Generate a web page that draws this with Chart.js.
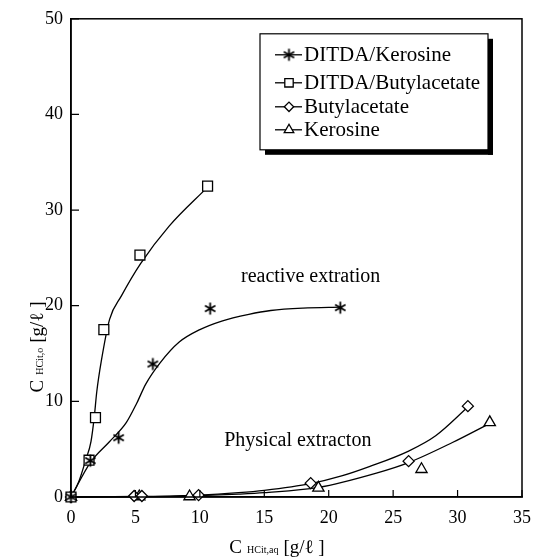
<!DOCTYPE html>
<html>
<head>
<meta charset="utf-8">
<script src="https://cdn.jsdelivr.net/npm/chart.js@4.4.0/dist/chart.umd.min.js"></script>
<style>
  html, body { margin: 0; padding: 0; background: #fff; }
  #wrap { width: 541px; height: 560px; position: relative; }
</style>
</head>
<body>
<div id="wrap"><canvas id="canvas"></canvas></div>
<script>
var xTicks = [0, 5, 10, 15, 20, 25, 30, 35];
var yTicks = [0, 10, 20, 30, 40, 50];

var seriesNames = ['DITDA/Kerosine', 'DITDA/Butylacetate', 'Butylacetate', 'Kerosine'];

// measured points
var ditdaKeroX = [0, 1.5, 3.7, 6.35, 10.8, 20.9];
var ditdaKeroY = [0, 3.8, 6.2, 13.9, 19.7, 19.8];
var ditdaButX = [0, 1.4, 1.9, 2.55, 5.35, 10.6];
var ditdaButY = [0, 3.85, 8.3, 17.5, 25.3, 32.5];
var butX = [0, 4.9, 5.5, 9.9, 18.6, 26.2, 30.8];
var butY = [0, 0.1, 0.1, 0.2, 1.45, 3.75, 9.5];
var keroX = [0, 5.3, 9.2, 19.2, 27.2, 32.5];
var keroY = [0, 0.05, 0.05, 0.95, 2.9, 7.8];

// hand-drawn fit curves
var ditdaKeroFitX = [0, 1.5, 3.0, 4.3, 5.1, 5.8, 6.9, 8.4, 10, 11.7, 13.8, 15.5, 18, 21];
var ditdaKeroFitY = [0, 3.6, 5.8, 7.8, 9.8, 11.8, 14.0, 16.2, 17.5, 18.4, 19.1, 19.5, 19.75, 19.85];
var ditdaButFitX = [0, 0.6, 1.15, 1.55, 1.8, 2.0, 2.35, 3.0, 3.9, 5.4, 7.6, 10.6];
var ditdaButFitY = [0, 1.6, 3.9, 5.8, 8.3, 11, 14.2, 18.6, 21.0, 24.4, 28.3, 32.4];
var butFitX = [0, 5, 10, 13, 15, 18.6, 21, 23.2, 26.2, 28.3, 30.8];
var butFitY = [0, 0.05, 0.2, 0.45, 0.7, 1.4, 2.2, 3.2, 4.8, 6.4, 9.4];
var keroFitX = [0, 5, 10, 13, 15, 19.2, 23.7, 26.2, 29.6, 32.5];
var keroFitY = [0, 0.03, 0.15, 0.3, 0.45, 1.0, 2.5, 3.6, 5.7, 7.7];

var notes = [
  { text: 'reactive extration', x: 18.6, y: 23 },
  { text: 'Physical extracton', x: 17.6, y: 5.9 }
];

var SERIF = '"Liberation Serif", "DejaVu Serif", serif';

function pts(xs, ys) {
  return xs.map(function (x, i) { return { x: x, y: ys[i] }; });
}

// six-armed asterisk marker
function makeAsterisk() {
  var c = document.createElement('canvas');
  c.width = 15; c.height = 15;
  var g = c.getContext('2d');
  g.strokeStyle = '#000';
  g.lineWidth = 1.8;
  g.beginPath();
  for (var k = 0; k < 3; k++) {
    var a = Math.PI / 2 + k * Math.PI / 3;
    g.moveTo(7.5 - Math.cos(a) * 6, 7.5 - Math.sin(a) * 6);
    g.lineTo(7.5 + Math.cos(a) * 6, 7.5 + Math.sin(a) * 6);
  }
  g.stroke();
  return c;
}
var asterisk = makeAsterisk();

var markers = [
  { style: asterisk, radius: 7 },
  { style: 'rect', radius: 7 },
  { style: 'rectRot', radius: 5.5 },
  { style: 'triangle', radius: 6.5 }
];

function pointSet(i, data) {
  return {
    label: seriesNames[i],
    data: data,
    showLine: false,
    pointStyle: markers[i].style,
    pointRadius: markers[i].radius,
    pointBorderWidth: 1.3,
    pointBorderColor: '#000',
    pointBackgroundColor: '#fff',
    order: 0
  };
}
function curveSet(data) {
  return {
    label: '',
    data: data,
    showLine: true,
    pointRadius: 0,
    borderColor: '#000',
    borderWidth: 1.3,
    cubicInterpolationMode: 'monotone',
    order: 1
  };
}

var extras = {
  id: 'extras',
  afterDraw: function (chart) {
    var ctx = chart.ctx, a = chart.chartArea;
    var xs = chart.scales.x, ys = chart.scales.y;
    ctx.save();
    ctx.strokeStyle = '#000';
    ctx.fillStyle = '#000';

    // frame
    ctx.lineWidth = 1.5;
    ctx.strokeRect(a.left, a.top, a.right - a.left, a.bottom - a.top);

    // inward ticks
    ctx.lineWidth = 1.2;
    ctx.beginPath();
    xTicks.forEach(function (v) {
      var px = xs.getPixelForValue(v);
      ctx.moveTo(px, a.bottom); ctx.lineTo(px, a.bottom - 7);
    });
    yTicks.forEach(function (v) {
      var py = ys.getPixelForValue(v);
      ctx.moveTo(a.left, py); ctx.lineTo(a.left + 8, py);
    });
    ctx.stroke();

    // notes in the plot
    ctx.font = '20px ' + SERIF;
    ctx.textAlign = 'center';
    ctx.textBaseline = 'middle';
    notes.forEach(function (n) {
      ctx.fillText(n.text, xs.getPixelForValue(n.x), ys.getPixelForValue(n.y));
    });

    // axis titles with small subscripts
    function rich(parts) {
      var w = 0;
      parts.forEach(function (p, i) {
        ctx.font = p[1] + 'px ' + SERIF;
        w += ctx.measureText(p[0]).width + (i ? 5 : 0);
      });
      var x = -w / 2;
      ctx.textAlign = 'left';
      ctx.textBaseline = 'alphabetic';
      parts.forEach(function (p) {
        ctx.font = p[1] + 'px ' + SERIF;
        ctx.fillText(p[0], x, 0);
        x += ctx.measureText(p[0]).width + 5;
      });
    }
    ctx.save();
    ctx.translate(277, 553);
    rich([['C', 19], ['HCit,aq', 10], ['[g/ℓ ]', 19]]);
    ctx.restore();
    ctx.save();
    ctx.translate(43, 347);
    ctx.rotate(-Math.PI / 2);
    rich([['C', 19], ['HCit,o', 10], ['[g/ℓ ]', 19]]);
    ctx.restore();

    // legend box with drop shadow
    var bx = a.right - 262, by = a.top + 15, bw = 228, bh = 116;
    ctx.fillRect(bx + bw, by + 5, 5, bh);
    ctx.fillRect(bx + 5, by + bh, bw, 5);
    ctx.fillStyle = '#fff';
    ctx.fillRect(bx, by, bw, bh);
    ctx.lineWidth = 1.2;
    ctx.strokeRect(bx, by, bw, bh);
    var rows = [21, 49, 73, 96];
    ctx.font = '21px ' + SERIF;
    ctx.textAlign = 'left';
    ctx.textBaseline = 'middle';
    seriesNames.forEach(function (name, i) {
      var ry = by + rows[i];
      ctx.strokeStyle = '#000';
      ctx.lineWidth = 1.3;
      ctx.beginPath();
      ctx.moveTo(bx + 15, ry); ctx.lineTo(bx + 42, ry);
      ctx.stroke();
      var m = markers[i];
      if (typeof m.style !== 'string') {
        ctx.drawImage(m.style, bx + 29 - 7.5, ry - 7.5);
      } else {
        ctx.fillStyle = '#fff';
        Chart.helpers.drawPoint(ctx, { pointStyle: m.style, radius: m.radius * 0.85, rotation: 0, borderWidth: 1.3 }, bx + 29, ry);
      }
      ctx.fillStyle = '#000';
      ctx.fillText(name, bx + 44, ry + 1);
    });
    ctx.restore();
  }
};

var options = {
  type: 'scatter',
  data: {
    datasets: [
      pointSet(0, pts(ditdaKeroX, ditdaKeroY)),
      pointSet(1, pts(ditdaButX, ditdaButY)),
      pointSet(2, pts(butX, butY)),
      pointSet(3, pts(keroX, keroY)),
      curveSet(pts(ditdaKeroFitX, ditdaKeroFitY)),
      curveSet(pts(ditdaButFitX, ditdaButFitY)),
      curveSet(pts(butFitX, butFitY)),
      curveSet(pts(keroFitX, keroFitY))
    ]
  },
  options: {
    responsive: true,
    maintainAspectRatio: false,
    animation: false,
    clip: false,
    layout: { padding: { top: 17, right: 14, left: 0, bottom: 0 } },
    plugins: {
      legend: { display: false },
      tooltip: { enabled: false }
    },
    scales: {
      x: {
        type: 'linear',
        min: 0, max: 35,
        afterBuildTicks: function (s) { s.ticks = xTicks.map(function (v) { return { value: v }; }); },
        afterFit: function (s) { s.height = 63; },
        ticks: { color: '#000', font: { family: SERIF, size: 18 }, padding: 10, maxRotation: 0 },
        grid: { display: true, drawOnChartArea: false, drawTicks: false },
        border: { display: true, color: '#000', width: 1.5 }
      },
      y: {
        type: 'linear',
        min: 0, max: 50,
        afterBuildTicks: function (s) { s.ticks = yTicks.map(function (v) { return { value: v }; }); },
        afterFit: function (s) { s.width = 71; },
        ticks: { color: '#000', font: { family: SERIF, size: 18 }, padding: 8 },
        grid: { display: true, drawOnChartArea: false, drawTicks: false },
        border: { display: true, color: '#000', width: 1.5 }
      }
    }
  },
  plugins: [extras]
};

var ctx = document.getElementById('canvas').getContext('2d');
new Chart(ctx, options);
</script>
</body>
</html>
